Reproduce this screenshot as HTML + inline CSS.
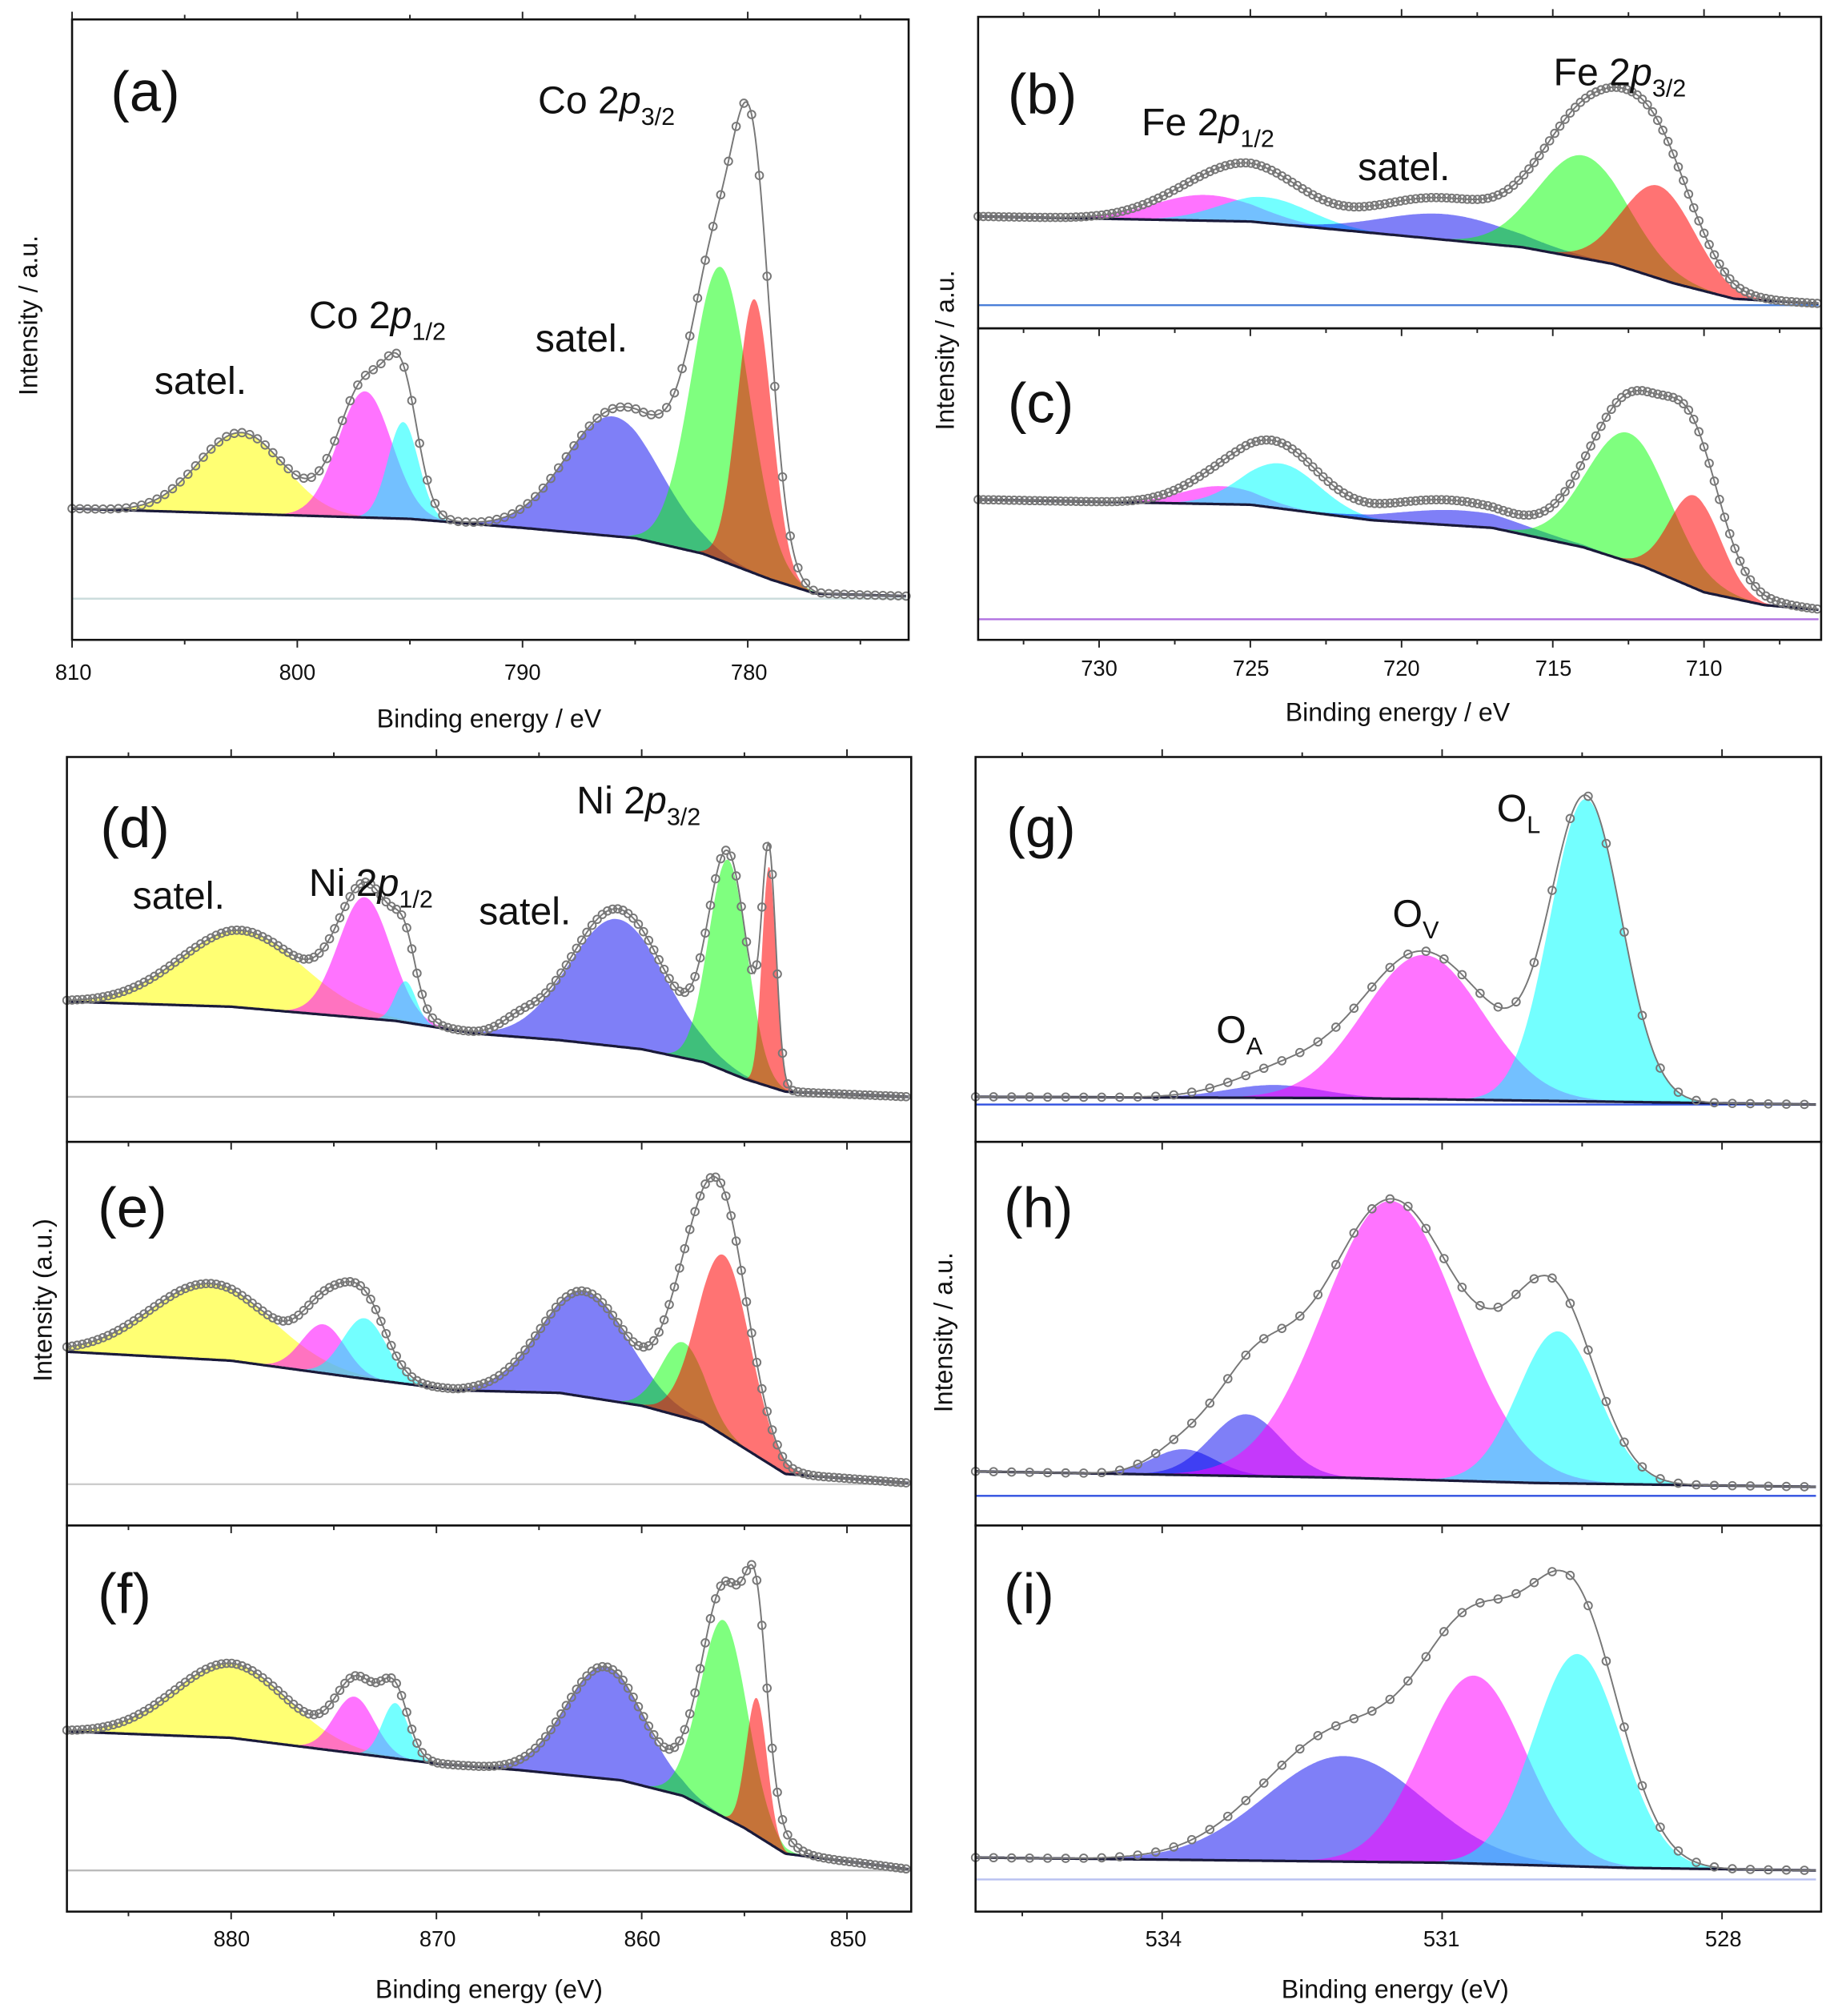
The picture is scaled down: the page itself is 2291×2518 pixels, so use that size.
<!DOCTYPE html>
<html><head><meta charset="utf-8"><style>
html,body{margin:0;padding:0;background:#fff}
svg{display:block}
text{font-family:"Liberation Sans",sans-serif;fill:#111}
.pl{font-size:44px}
.lb{font-size:30px}
.sb{font-size:19px}
.tk{font-size:17px;fill:#222}
.ax{font-size:20px;fill:#222}
</style></head><body>
<svg id="s" width="2291" height="2518" viewBox="0 0 1425 1566" xmlns="http://www.w3.org/2000/svg">
<g id="plots"></g>
<g fill="none" stroke="#111" stroke-width="1.6">
<rect x="56" y="15" width="650" height="482"/>
<rect x="760" y="13" width="655" height="242"/>
<rect x="760" y="255" width="655" height="242"/>
<rect x="52" y="588" width="656" height="299"/>
<rect x="52" y="887" width="656" height="298"/>
<rect x="52" y="1185" width="656" height="300"/>
<rect x="758" y="588" width="657" height="299"/>
<rect x="758" y="887" width="657" height="298"/>
<rect x="758" y="1185" width="657" height="300"/>
</g>
<g id="ticks" stroke="#222" stroke-width="1.2"></g>
<g class="tk" text-anchor="middle">
<text x="57" y="528">810</text><text x="231" y="528">800</text><text x="406" y="528">790</text><text x="582" y="528">780</text>
<text x="854" y="525">730</text><text x="972" y="525">725</text><text x="1089" y="525">720</text><text x="1207" y="525">715</text><text x="1324" y="525">710</text>
<text x="180" y="1512">880</text><text x="340" y="1512">870</text><text x="499" y="1512">860</text><text x="659" y="1512">850</text>
<text x="904" y="1512">534</text><text x="1120" y="1512">531</text><text x="1339" y="1512">528</text>
</g>
<g class="ax" text-anchor="middle">
<text x="380" y="565">Binding energy / eV</text>
<text x="1086" y="560">Binding energy / eV</text>
<text x="380" y="1552">Binding energy (eV)</text>
<text x="1084" y="1552">Binding energy (eV)</text>
<text transform="translate(29,245) rotate(-90)">Intensity / a.u.</text>
<text transform="translate(741,272) rotate(-90)">Intensity / a.u.</text>
<text transform="translate(40,1010) rotate(-90)">Intensity (a.u.)</text>
<text transform="translate(740,1035) rotate(-90)">Intensity / a.u.</text>
</g>
<g class="pl">
<text x="86" y="86">(a)</text><text x="783" y="88">(b)</text><text x="783" y="328">(c)</text>
<text x="78" y="658">(d)</text><text x="76" y="953">(e)</text><text x="76" y="1253">(f)</text>
<text x="782" y="658">(g)</text><text x="780" y="953">(h)</text><text x="780" y="1253">(i)</text>
</g>
<g class="lb">
<text x="418" y="88">Co 2<tspan font-style="italic">p</tspan><tspan class="sb" dy="9">3/2</tspan></text>
<text x="240" y="255">Co 2<tspan font-style="italic">p</tspan><tspan class="sb" dy="9">1/2</tspan></text>
<text x="416" y="273">satel.</text>
<text x="120" y="306">satel.</text>
<text x="887" y="105">Fe 2<tspan font-style="italic">p</tspan><tspan class="sb" dy="9">1/2</tspan></text>
<text x="1055" y="140">satel.</text>
<text x="1207" y="66">Fe 2<tspan font-style="italic">p</tspan><tspan class="sb" dy="9">3/2</tspan></text>
<text x="103" y="706">satel.</text>
<text x="240" y="696">Ni 2<tspan font-style="italic">p</tspan><tspan class="sb" dy="9">1/2</tspan></text>
<text x="372" y="718">satel.</text>
<text x="448" y="632">Ni 2<tspan font-style="italic">p</tspan><tspan class="sb" dy="9">3/2</tspan></text>
<text x="1163" y="638">O<tspan class="sb" dy="9">L</tspan></text>
<text x="1082" y="720">O<tspan class="sb" dy="9">V</tspan></text>
<text x="945" y="810">O<tspan class="sb" dy="9">A</tspan></text>
</g>
</svg>
<script>
var C={y:"rgba(255,255,0,0.55)",m:"rgba(255,0,255,0.55)",c:"rgba(0,255,255,0.55)",b:"rgba(0,0,240,0.5)",g:"rgba(0,255,0,0.5)",r:"rgba(255,0,0,0.55)"};
var A={x0:56,emax:810,ppe:17.5,emin:773},B={x0:760,emax:734,ppe:23.5,emin:706.2},D={x0:52,emax:888,ppe:15.95,emin:847},G={x0:758,emax:536,ppe:72.5,emin:527};
var P=[
{ax:A,line:465,lc:"#cdd",base:[[810,395],[795,403],[790,410],[785,418],[782,430],[779,450],[777,461],[773,463]],
 pk:[["y",802.5,63,4.5],["m",797,98,2.8],["c",795.3,75,1.6],["b",786,93,5],["g",781.2,228,3],["r",779.7,213,1.8]],
 ex:[[780.5,20,2.5],[796,12,2.5],[784,20,3]],step:6},
{ax:B,line:237,lc:"#4a7fd8",base:[[734,168],[725,172],[720,183],[716,192],[713,205],[711,220],[709,232],[706,236]],
 pk:[["m",726.5,20,4],["c",724.5,20,3.5],["b",718.5,20,5],["g",714,80,3.5],["r",711.5,72,2.8]],
 ex:[[712.8,40,4],[725,12,4],[719,12,6]],step:4},
{ax:B,line:481,lc:"#b070e0",base:[[734,388],[725,392],[721,404],[717,410],[714,425],[712,440],[710,460],[708,470],[706,474]],
 pk:[["m",726,14,3],["c",724,35,3],["b",718,12,5],["g",712.5,100,3.2],["r",710.3,72,2]],
 ex:[[711.3,36,4],[724.5,12,4],[719,8,5]],step:4},
{ax:D,line:852,lc:"#bbb",base:[[888,778],[880,782],[872,793],[868,803],[864,808],[860,815],[857,825],[855,838],[853,848],[847,852]],
 pk:[["y",879.5,60,7],["m",873.5,94,3],["c",871.5,32,1.2],["b",861.2,99,5.5],["g",855.8,165,2.2],["r",853.8,171,0.8]],
 ex:[[866,8,2],[872,18,2],[861,8,4]],step:4},
{ax:D,line:1153,lc:"#ccc",base:[[888,1050],[880,1057],[874,1070],[869,1080],[864,1082],[860,1092],[857,1105],[855,1125],[853,1145],[847,1152]],
 pk:[["y",881,59,7],["m",875.5,38,2.5],["c",873.5,47,2.5],["b",862.8,82,5],["g",858,58,2.5],["r",856,140,3]],
 ex:[[856.5,44,2.8],[874,14,3]],step:4},
{ax:D,line:1453,lc:"#bbb",base:[[888,1345],[880,1350],[874,1362],[870,1370],[866,1375],[861,1383],[858,1395],[855,1420],[853,1440],[847,1452]],
 pk:[["y",880,58,6.5],["m",874,44,2.3],["c",872,43,1.5],["b",861.8,87,4.5],["g",856,153,2.7],["r",854.4,107,1.2]],
 ex:[[855,38,3],[873,16,2.5]],step:4},
{ax:G,line:858,lc:"#3050e0",base:[[536,852],[532,853],[530,855],[528,857],[527,858]],
 pk:[["b",532.8,10,1.2],["m",531.2,112,1.5],["c",529.46,235,0.9]],
 ex:[[532.4,14,1.5],[530.4,10,0.8]],step:14},
{ax:G,line:1162,lc:"#3050e0",base:[[536,1143],[532,1148],[530,1152],[527,1155]],
 pk:[["b",533.77,20,0.8],["b",533.1,48,0.9],["m",531.55,216,1.7],["c",529.76,118,1.0]],
 ex:[[532.8,28,1.0],[530.2,40,1.2]],step:14},
{ax:G,line:1460,lc:"#b8c0f0",base:[[536,1443],[531,1447],[529,1451],[527,1453]],
 pk:[["b",532.05,82,2.0],["m",530.66,146,1.3],["c",529.55,165,1.1]],
 ex:[[529.9,40,1.4],[532,20,2]],step:14}
];
function gs(e,c,h,w){var d=(e-c)/w;return h*Math.exp(-2.7726*d*d);}
function bl(b,e){for(var i=0;i<b.length-1;i++){if(e<=b[i][0]&&e>=b[i+1][0]){var t=(b[i][0]-e)/(b[i][0]-b[i+1][0]);return b[i][1]+t*(b[i+1][1]-b[i][1]);}}return e>b[0][0]?b[0][1]:b[b.length-1][1];}
var g=document.getElementById("plots"),out="";
P.forEach(function(p){
 var a=p.ax,xs=[],N=Math.round((a.emax-a.emin)*a.ppe);
 for(var i=0;i<=N;i++){xs.push(a.x0+i)}
 function E(x){return a.emax-(x-a.x0)/a.ppe;}
 out+='<line x1="'+a.x0+'" x2="'+(a.x0+N)+'" y1="'+p.line+'" y2="'+p.line+'" stroke="'+p.lc+'" stroke-width="1.5"/>';
 p.pk.forEach(function(k){
  var top=[],bot=[];
  xs.forEach(function(x){var e=E(x),b=bl(p.base,e);top.push(x+","+(b-gs(e,k[1],k[2],k[3])).toFixed(1));bot.unshift(x+","+b.toFixed(1));});
  out+='<polygon points="'+top.join(" ")+" "+bot.join(" ")+'" fill="'+C[k[0]]+'"/>';
 });
 var bp=xs.map(function(x){return x+","+bl(p.base,E(x)).toFixed(1)}).join(" ");
 out+='<polyline points="'+bp+'" fill="none" stroke="#1a1a3a" stroke-width="2"/>';
 var env=[];
 xs.forEach(function(x){var e=E(x),s=bl(p.base,e);p.pk.forEach(function(k){s-=gs(e,k[1],k[2],k[3])});p.ex.forEach(function(k){s-=gs(e,k[0],k[1],k[2])});env.push([x,s]);});
 out+='<polyline points="'+env.map(function(q){return q[0]+","+q[1].toFixed(1)}).join(" ")+'" fill="none" stroke="#777" stroke-width="1.2"/>';
 for(var j=0;j<env.length;j+=p.step){out+='<circle cx="'+env[j][0]+'" cy="'+env[j][1].toFixed(1)+'" r="3" fill="none" stroke="#777" stroke-width="1.2"/>';}
});
g.innerHTML=out;
var t="";
function xt(a,x1,y,step,maj,len){for(var e=Math.ceil(a.emin/step)*step;e<=a.emax+1e-6;e+=step){var x=a.x0+(a.emax-e)*a.ppe;if(x>x1)continue;var l=(Math.abs(e/maj-Math.round(e/maj))<1e-6)?len:len*0.6;t+='<line x1="'+x.toFixed(1)+'" x2="'+x.toFixed(1)+'" y1="'+y+'" y2="'+(y+l)+'"/>';}}
xt(A,706,497,5,10,6);xt(A,706,15,5,10,-6);
xt(B,1415,497,2.5,5,6);xt(B,1415,255,2.5,5,6);xt(B,1415,13,2.5,5,-6);
xt(D,708,1485,5,10,6);xt(D,708,588,5,10,-6);xt(D,708,887,5,10,6);xt(D,708,1185,5,10,6);
xt(G,1415,1485,1.5,3,6);xt(G,1415,588,1.5,3,-6);xt(G,1415,887,1.5,3,6);xt(G,1415,1185,1.5,3,6);
document.getElementById("ticks").innerHTML=t;
</script>
</body></html>
